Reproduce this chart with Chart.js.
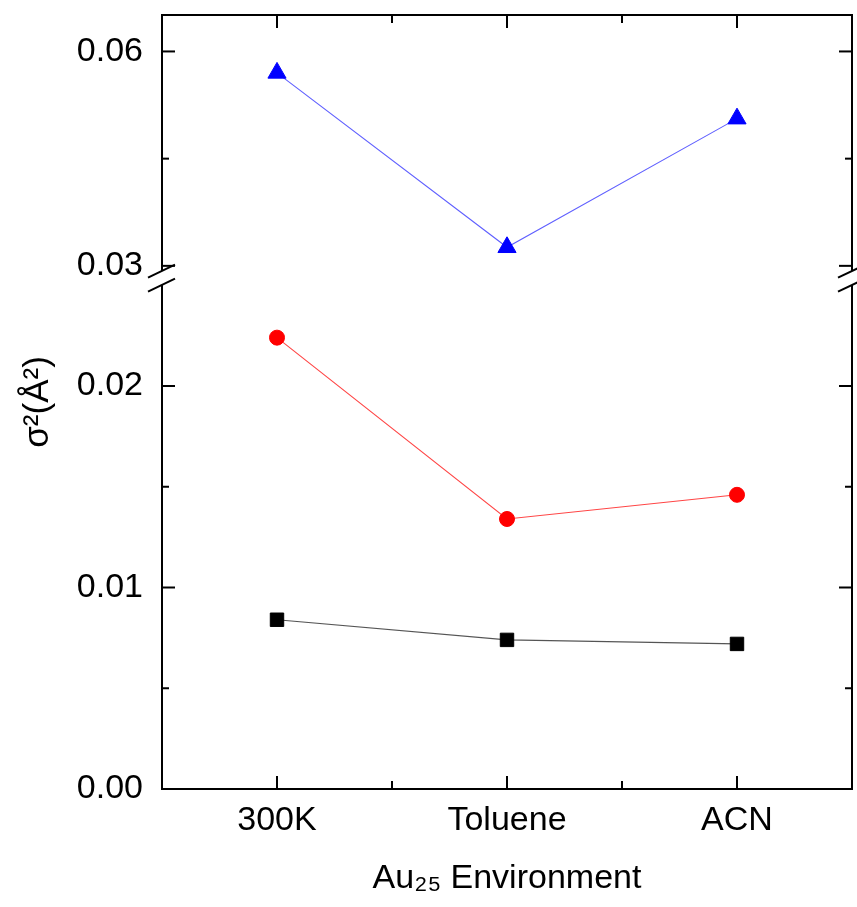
<!DOCTYPE html>
<html><head><meta charset="utf-8">
<script src="https://cdn.jsdelivr.net/npm/chart.js@4/dist/chart.umd.min.js"></script>
<style>html,body{margin:0;padding:0;background:#fff;} #wrap{width:857px;height:907px;}</style>
</head><body><div id="wrap"><canvas id="c" width="857" height="907"></canvas></div>
<script>
// ---- data ----
const categories = ['300K', 'Toluene', 'ACN'];
const squareValues = [0.0084, 0.0074, 0.0072];
const circleValues = [0.0224, 0.0134, 0.0146];
const triangleValues = [0.0570, 0.0326, 0.0506];
const lowerTickLabels = [0.00, 0.01, 0.02];
const lowerMinorTicks = [0.005, 0.015];
const upperTickLabels = [0.03, 0.06];
const upperMinorTicks = [0.045];
const lowerRange = [0, 0.02536];
const upperRange = [0.0283, 0.0651];
const xTitle = 'Au\u2082\u2085 Environment';
const yTitle = '\u03C3\u00B2(\u00C5\u00B2)';

const FONT = "'Liberation Sans', Arial, sans-serif";
const zeroPad = s => { s.paddingTop = 0; s.paddingBottom = 0; s.paddingLeft = 0; s.paddingRight = 0; };

const framePlugin = {
  id: 'frame',
  afterDraw(chart) {
    const {ctx, chartArea: a, scales} = chart;
    const x = scales.x, yLow = scales.yLow, yHigh = scales.yHigh;
    const L = a.left, R = a.right, T = a.top, B = a.bottom;
    const brk = yLow.top;
    const g = 7;
    ctx.save();
    ctx.strokeStyle = '#000';
    ctx.lineWidth = 2;
    const seg = (x1, y1, x2, y2) => { ctx.beginPath(); ctx.moveTo(x1, y1); ctx.lineTo(x2, y2); ctx.stroke(); };
    seg(L - 1, T, R + 1, T);
    seg(L - 1, B, R + 1, B);
    for (const X of [L, R]) {
      seg(X, T, X, brk - g);
      seg(X, brk + g, X, B);
      seg(X - 14, brk - g + 6.7, X + 13, brk - g - 6.3);
      seg(X - 14, brk + g + 6.7, X + 13, brk + g - 6.3);
    }
    const yt = (s, vals, len) => vals.forEach(v => {
      const p = s.getPixelForValue(v);
      seg(L, p, L + len, p);
      seg(R, p, R - len, p);
    });
    yt(yLow, lowerTickLabels, 13);
    yt(yLow, lowerMinorTicks, 7);
    yt(yHigh, upperTickLabels, 13);
    yt(yHigh, upperMinorTicks, 7);
    categories.forEach((c, i) => {
      const p = x.getPixelForValue(i);
      seg(p, B, p, B - 13);
      seg(p, T, p, T + 13);
    });
    for (let i = 0; i < categories.length - 1; i++) {
      const p = x.getPixelForValue(i + 0.5);
      seg(p, B, p, B - 8);
      seg(p, T, p, T + 8);
    }
    ctx.restore();
  }
};

const yScaleBase = (range, ticks, weight) => ({
  type: 'linear', position: 'left', stack: 'y', stackWeight: weight,
  min: range[0], max: range[1],
  grid: {display: false, drawTicks: false},
  border: {display: false},
  ticks: {color: '#000', font: {family: FONT, size: 34}, padding: 19, callback: v => Number(v).toFixed(2)},
  afterBuildTicks: s => { s.ticks = ticks.map(v => ({value: v})); },
  afterFit: s => { s.width = 102; zeroPad(s); }
});

new Chart(document.getElementById('c'), {
  type: 'line',
  data: {
    labels: categories,
    datasets: [
      {data: squareValues, yAxisID: 'yLow', borderColor: '#555', borderWidth: 1.1,
       pointStyle: 'rect', pointRadius: 9.5, pointBackgroundColor: '#000', pointBorderColor: '#000', pointBorderWidth: 1},
      {data: circleValues, yAxisID: 'yLow', borderColor: '#ff4545', borderWidth: 1.1,
       pointStyle: 'circle', pointRadius: 7.5, pointBackgroundColor: '#ff0000', pointBorderColor: '#ff0000', pointBorderWidth: 1},
      {data: triangleValues, yAxisID: 'yHigh', borderColor: '#6060ff', borderWidth: 1.1,
       pointStyle: 'triangle', pointRadius: 10.5, pointBackgroundColor: '#0000ff', pointBorderColor: '#0000ff', pointBorderWidth: 1}
    ]
  },
  options: {
    responsive: false, animation: false, devicePixelRatio: 1,
    layout: {autoPadding: false, padding: {top: 15, right: 5, left: 0, bottom: 0}},
    plugins: {legend: {display: false}, tooltip: {enabled: false}},
    elements: {line: {tension: 0}},
    scales: {
      x: {
        type: 'category', position: 'bottom', offset: true,
        grid: {display: false, drawTicks: false}, border: {display: false},
        ticks: {color: '#000', font: {family: FONT, size: 34}, padding: 11, maxRotation: 0, autoSkip: false},
        title: {display: true, text: xTitle, color: '#000', font: {family: FONT, size: 34}, padding: {top: 0, bottom: 8}},
        afterFit: s => { s.height = 118; zeroPad(s); }
      },
      yLow: yScaleBase(lowerRange, lowerTickLabels, 511),
      yHigh: yScaleBase(upperRange, upperTickLabels, 263),
      yTitle: {
        type: 'linear', position: 'left', weight: 1, display: true,
        grid: {display: false, drawTicks: false}, border: {display: false},
        ticks: {display: false},
        title: {display: true, text: yTitle, color: '#000', font: {family: FONT, size: 35}, padding: {top: 17, bottom: 0}},
        afterFit: s => { s.width = 60; zeroPad(s); }
      }
    }
  },
  plugins: [framePlugin]
});
</script>
</body></html>
